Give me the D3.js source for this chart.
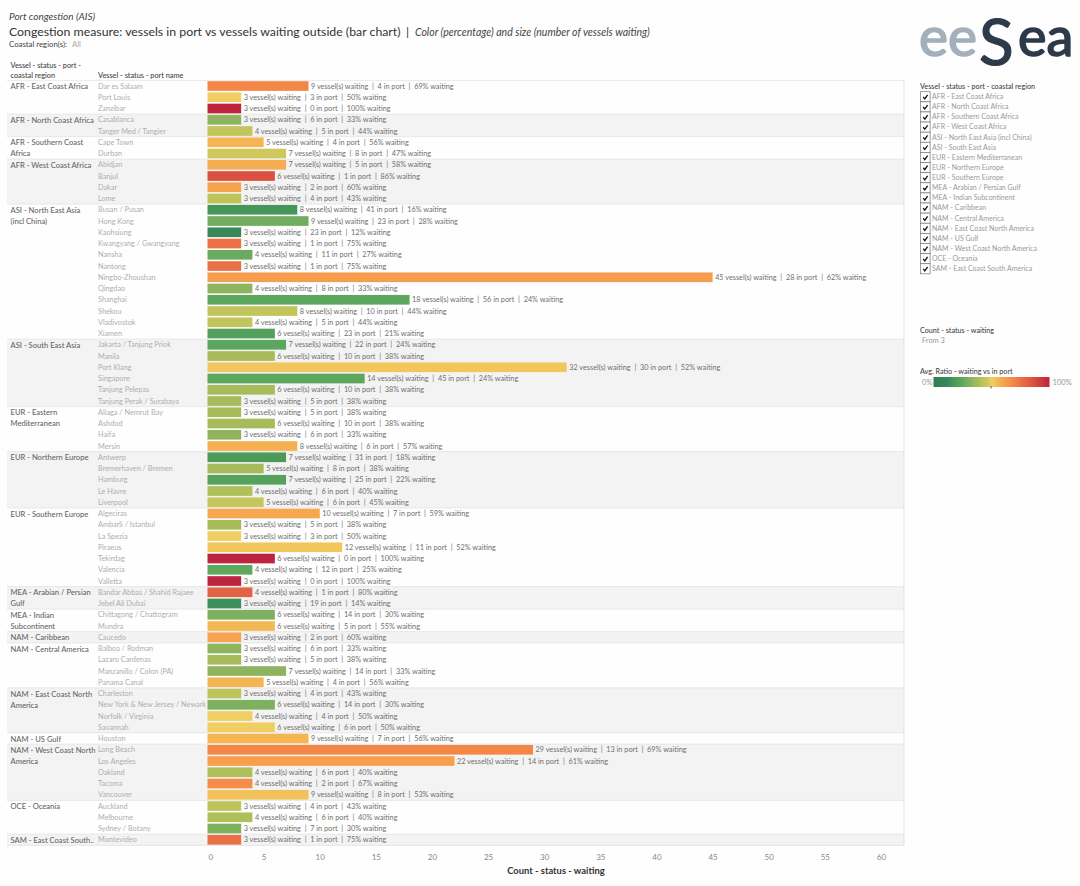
<!DOCTYPE html>
<html><head><meta charset="utf-8">
<script src="https://cdnjs.cloudflare.com/ajax/libs/d3/7.8.5/d3.min.js"></script>
<style>html,body{margin:0;padding:0;background:#fff}svg{display:block}text{font-family:Lato,"Noto Sans",sans-serif;white-space:pre}</style>
</head><body><svg id="c" width="1080" height="886"></svg>
<script>
const regionLines=[["AFR - East Coast Africa"],["AFR - North Coast Africa"],["AFR - Southern Coast","Africa"],["AFR - West Coast Africa"],["ASI - North East Asia","(incl China)"],["ASI - South East Asia"],["EUR - Eastern","Mediterranean"],["EUR - Northern Europe"],["EUR - Southern Europe"],["MEA - Arabian / Persian","Gulf"],["MEA - Indian","Subcontinent"],["NAM - Caribbean"],["NAM - Central America"],["NAM - East Coast North","America"],["NAM - US Gulf"],["NAM - West Coast North","America"],["OCE - Oceania"],["SAM - East Coast South.."]];
const regionCounts=[3,2,2,4,12,6,4,5,7,2,2,1,4,4,1,5,3,1];
const ports=["Dar es Salaam","Port Louis","Zanzibar","Casablanca","Tanger Med / Tangier","Cape Town","Durban","Abidjan","Banjul","Dakar","Lome","Busan / Pusan","Hong Kong","Kaohsiung","Kwangyang / Gwangyang","Nansha","Nantong","Ningbo-Zhoushan","Qingdao","Shanghai","Shekou","Vladivostok","Xiamen","Jakarta / Tanjung Priok","Manila","Port Klang","Singapore","Tanjung Pelepas","Tanjung Perak / Surabaya","Aliaga / Nemrut Bay","Ashdod","Haifa","Mersin","Antwerp","Bremerhaven / Bremen","Hamburg","Le Havre","Liverpool","Algeciras","Ambarli / Istanbul","La Spezia","Piraeus","Tekirdag","Valencia","Valletta","Bandar Abbas / Shahid Rajaee","Jebel Ali Dubai","Chittagong / Chattogram","Mundra","Caucedo","Balboa / Rodman","Lazaro Cardenas","Manzanillo / Colon (PA)","Panama Canal","Charleston","New York & New Jersey / Newark","Norfolk / Virginia","Savannah","Houston","Long Beach","Los Angeles","Oakland","Tacoma","Vancouver","Auckland","Melbourne","Sydney / Botany","Montevideo"];
const waiting=[9,3,3,3,4,5,7,7,6,3,3,8,9,3,3,4,3,45,4,18,8,4,6,7,6,32,14,6,3,3,6,3,8,7,5,7,4,5,10,3,3,12,6,4,3,4,3,6,6,3,3,3,7,5,3,6,4,6,9,29,22,4,4,9,3,4,3,3];
const inPort=[4,3,0,6,5,4,8,5,1,2,4,41,23,23,1,11,1,28,8,56,10,5,23,22,10,30,45,10,5,5,10,6,6,31,8,25,6,6,7,5,3,11,0,12,0,1,19,14,5,2,6,5,14,4,4,14,4,6,7,13,14,6,2,8,4,6,7,1];
const pct=[69,50,100,33,44,56,47,58,86,60,43,16,28,12,75,27,75,62,33,24,44,44,21,24,38,52,24,38,38,38,38,33,57,18,38,22,40,45,59,38,50,52,100,25,100,80,14,30,55,60,33,38,33,56,43,30,50,50,56,69,61,40,67,53,43,40,30,75];
const filterItems=["AFR - East Coast Africa","AFR - North Coast Africa","AFR - Southern Coast Africa","AFR - West Coast Africa","ASI - North East Asia (incl China)","ASI - South East Asia","EUR - Eastern Mediterranean","EUR - Northern Europe","EUR - Southern Europe","MEA - Arabian / Persian Gulf","MEA - Indian Subcontinent","NAM - Caribbean","NAM - Central America","NAM - East Coast North America","NAM - US Gulf","NAM - West Coast North America","OCE - Oceania","SAM - East Coast South America"];
const axisTicks=[0,5,10,15,20,25,30,35,40,45,50,55,60];
const colorDomain=[0,12,16,25,33,38,43,47,50,56,60,69,75,86,100];
const colorRange=["#2f7d50","#37875a","#459659","#5fa85f","#8fb45f","#a7bb5a","#bcc45a","#d0c85c","#efce62","#f5b552","#f6a24e","#f48748","#ea7146","#dc5040","#bd2440"];

const svg=d3.select("#c");
const W=1080,H=886,L=7,R=904,top0=80.4,bot0=845.4;
const x=d3.scaleLinear().domain([0,60]).range([207.5,881]);
const y=d3.scaleBand().domain(d3.range(ports.length)).range([top0,bot0]).paddingInner(0.14).paddingOuter(0.07);
const step=(bot0-top0)/ports.length;
const color=d3.scaleLinear().domain(colorDomain).range(colorRange);

svg.append("rect").attr("width",W).attr("height",H).attr("fill","#fefefe");
let start=0;
const groups=regionCounts.map((n,i)=>{const g={i,s:start,n,lines:regionLines[i]};start+=n;return g;});
svg.selectAll("rect.band").data(groups).join("rect").attr("class","band")
 .attr("x",L).attr("width",R-L).attr("y",d=>top0+d.s*step).attr("height",d=>d.n*step)
 .attr("fill",d=>d.i%2?"#f3f3f3":"#fefefe");
svg.selectAll("line.sep").data(groups.concat([{s:ports.length}])).join("line").attr("class","sep")
 .attr("x1",L).attr("x2",R).attr("y1",d=>top0+d.s*step).attr("y2",d=>top0+d.s*step)
 .attr("stroke","#e2e2e2").attr("stroke-width",0.8);
svg.append("line").attr("x1",R).attr("x2",R).attr("y1",top0).attr("y2",bot0).attr("stroke","#dcdcdc").attr("stroke-width",0.8);

const T=(s,px,py,size,fill,opt={})=>svg.append("text").text(s).attr("x",px).attr("y",py).attr("font-size",size).attr("fill",fill)
 .attr("font-style",opt.it?"italic":null).attr("font-weight",opt.b?opt.b:null).attr("text-anchor",opt.a||null);
T("Port congestion (AIS)",9,20,10,"#444",{it:1});
T("Congestion measure: vessels in port vs vessels waiting outside (bar chart)",9,36,12.3,"#333");
T("|",406,36,12.3,"#333");
T("Color (percentage) and size (number of vessels waiting)",415,35.5,10.5,"#444",{it:1});
T("Coastal region(s):",9,47,7.8,"#444");
T("All",72,47,7.8,"#aaa");
T("Vessel - status - port -",10.5,68,7.3,"#444",{b:500});
T("coastal region",10.5,78,7.3,"#444",{b:500});
T("Vessel - status - port name",98,78,7.3,"#444",{b:500});

groups.forEach(g=>g.lines.forEach((t,k)=>T(t,10.5,top0+g.s*step+8.6+k*11.2,7.6,"#666",{b:500})));
svg.selectAll("text.port").data(ports).join("text").attr("class","port").text(d=>d)
 .attr("x",98).attr("y",(d,i)=>y(i)+y.bandwidth()/2+2.7).attr("font-size",7.3).attr("fill","#aeaeae");
svg.selectAll("rect.bar").data(waiting).join("rect").attr("class","bar")
 .attr("x",x(0)).attr("y",(d,i)=>y(i)).attr("width",d=>x(d)-x(0)).attr("height",y.bandwidth())
 .attr("fill",(d,i)=>color(pct[i]));
svg.selectAll("text.val").data(waiting).join("text").attr("class","val")
 .text((d,i)=>`${d} vessel(s) waiting  |  ${inPort[i]} in port  |  ${pct[i]}% waiting`)
 .attr("x",d=>x(d)+2.5).attr("y",(d,i)=>y(i)+y.bandwidth()/2+2.7).attr("font-size",7.3).attr("fill","#6f6f6f");

const ax=svg.append("g").attr("transform",`translate(0,${bot0})`)
 .call(d3.axisBottom(x).tickValues(axisTicks).tickSize(0).tickPadding(9));
ax.select(".domain").remove();
ax.selectAll("text").attr("font-size",8).attr("fill","#888").style("font-family","Lato,sans-serif");
ax.selectAll(".tick").filter(d=>d===0).select("text").attr("dx",2.8);
T("Count - status - waiting",556,874,9.4,"#333",{a:"middle",b:700});

const logoParts=[["ee",919,56,55,"#a3b0bc",1.6],["S",979,65,64,"#2c3a4a",1.2],["ea",1018,56,54,"#2c3a4a",1.6]];
svg.selectAll("text.logo").data(logoParts).join("text").attr("class","logo").text(d=>d[0])
 .attr("x",d=>d[1]).attr("y",d=>d[2]).attr("font-size",d=>d[3]).attr("fill",d=>d[4]).attr("stroke",d=>d[4]).attr("stroke-width",d=>d[5]);

T("Vessel - status - port - coastal region",920,88.5,7.2,"#444",{b:500});
const f=svg.selectAll("g.f").data(filterItems).join("g").attr("class","f").attr("transform",(d,i)=>`translate(920,${91.5+i*10.12})`);
f.append("rect").attr("x",0.5).attr("y",0.2).attr("width",9.6).attr("height",10.1).attr("fill","#fff").attr("stroke","#777").attr("stroke-width",0.7);
f.append("path").attr("d","M3.2 5.4L4.8 7.4L7.6 3.4").attr("fill","none").attr("stroke","#111").attr("stroke-width",1.3);
f.append("text").text(d=>d).attr("x",12).attr("y",7.6).attr("font-size",7).attr("fill","#9a9a9a");

T("Count - status - waiting",920,333,7.2,"#444",{b:500});
T("From 3",922,343,7.4,"#999");
T("Avg. Ratio - waiting vs in port",920,374,7.2,"#444",{b:500});
const defs=svg.append("defs");
const grad=defs.append("linearGradient").attr("id","lg");
colorDomain.forEach((p,i)=>grad.append("stop").attr("offset",p+"%").attr("stop-color",colorRange[i]));
svg.append("rect").attr("x",933.5).attr("y",377).attr("width",116).attr("height",10).attr("fill","url(#lg)");
svg.append("line").attr("x1",991).attr("x2",991).attr("y1",386).attr("y2",388.5).attr("stroke","#333").attr("stroke-width",0.8);
T("0%",922,385,7.6,"#999");
T("100%",1052.5,385,7.6,"#999");
</script></body></html>
